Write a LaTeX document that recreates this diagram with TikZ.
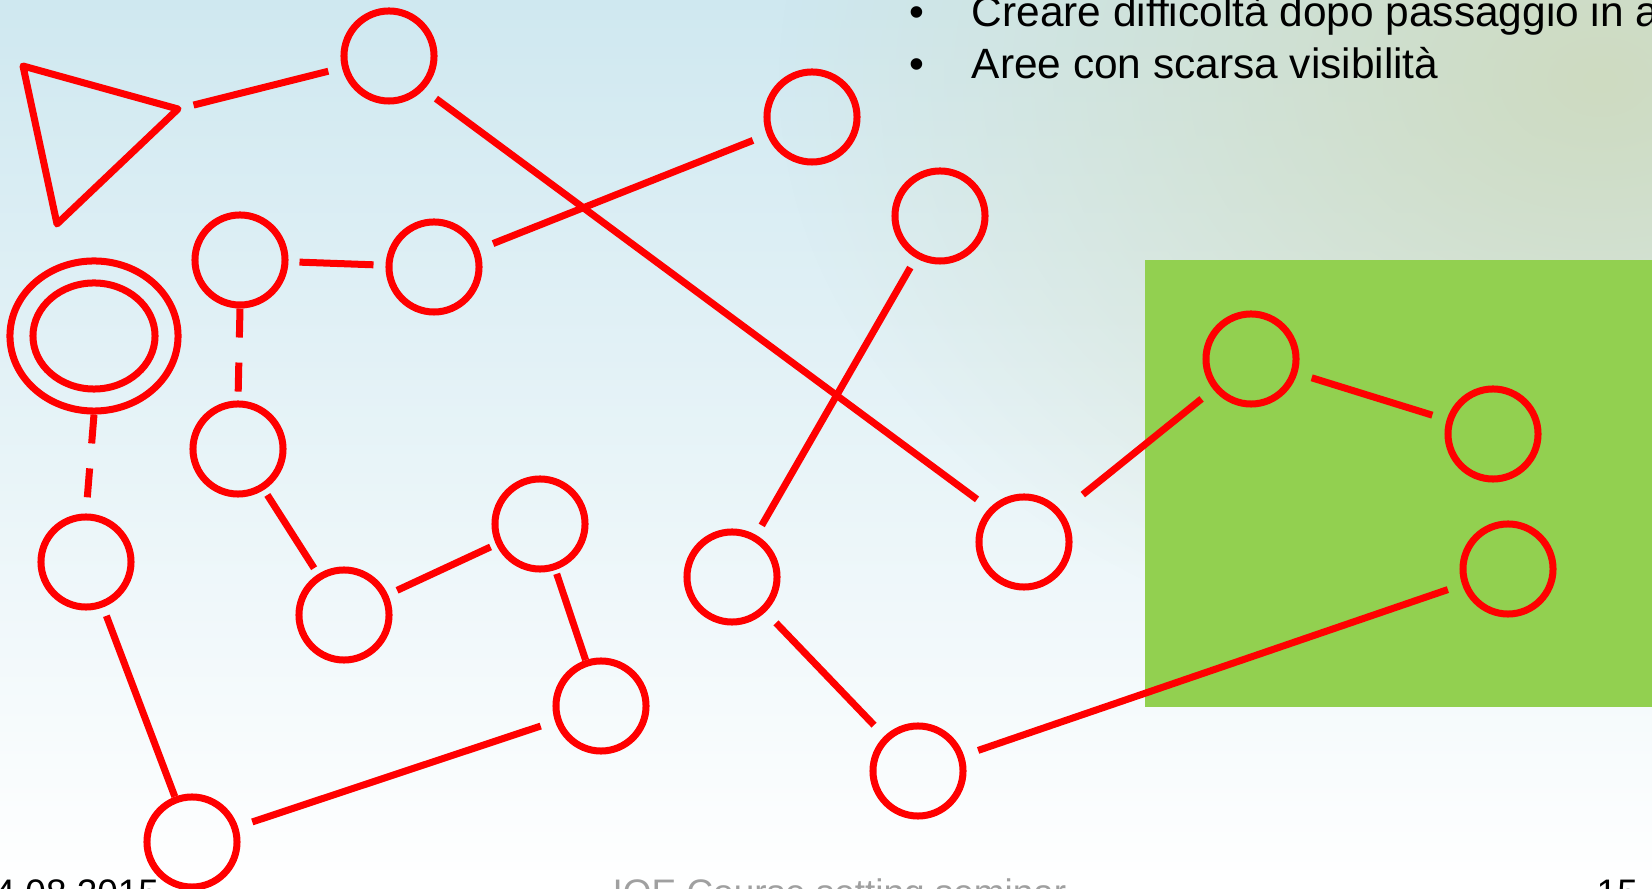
\documentclass[tikz,border=0pt]{standalone}
\usepackage{fontspec}
\setmainfont{Liberation Sans}
\usepackage{tikz}
\usetikzlibrary{shapes.geometric,fadings}

\definecolor{meadow}{RGB}{146,208,80}
\definecolor{skytop}{RGB}{207,232,240}
\definecolor{skymid}{RGB}{236,249,252}
\definecolor{haze}{RGB}{206,219,193}
\definecolor{footgray}{RGB}{160,160,160}

\tikzfading[name=haze fade, inner color=transparent!0, outer color=transparent!100]

\tikzset{
  ctl/.style={circle, draw=red, line width=0.07cm, minimum size=0.9cm, inner sep=0pt},
  ring/.style={ellipse, draw=red, line width=0.07cm, inner sep=0pt},
  leg/.style={draw=red, line width=0.07cm, shorten <=0.15cm, shorten >=0.15cm},
  gap leg/.style={leg, dash pattern=on 0.29cm off 0.25cm, shorten <=0pt},
  slide/.style={inner sep=0pt, font=\fontsize{12.06pt}{14pt}\selectfont},
  foot/.style={inner sep=0pt, font=\fontsize{10.5pt}{12pt}\selectfont},
}

\begin{document}
\begin{tikzpicture}[x=0.01cm, y=-0.01cm]
    \useasboundingbox (0,0) rectangle (1652,889);
    \clip (0,0) rectangle (1652,889);
    % background
    \shade[top color=skytop, middle color=skymid, bottom color=white] (0,0) rectangle (1652,889);
    \fill[haze, path fading=haze fade] (780,-520) rectangle (2420,680);
    \fill[meadow] (1145,260) rectangle (1652,707);

    % start and finish
    \draw[draw=red, line width=0.07cm, line join=round] (23,66) -- (178,109) -- (57,224) -- cycle;
    \coordinate (start) at (178,109);
    \node [ring, minimum width=1.68cm, minimum height=1.5cm] (finish) at (94,336) {};
    \node [ring, minimum width=1.22cm, minimum height=1.06cm] (finishin) at (94,336) {};

    % controls
    \node [ctl] (c1)  at (389,56)   {};
    \node [ctl] (c2)  at (812,117)  {};
    \node [ctl] (c3)  at (240,260)  {};
    \node [ctl] (c4)  at (434,267)  {};
    \node [ctl] (c5)  at (238,449)  {};
    \node [ctl] (c6)  at (86,562)   {};
    \node [ctl] (c7)  at (344,615)  {};
    \node [ctl] (c8)  at (540,524)  {};
    \node [ctl] (c9)  at (601,706)  {};
    \node [ctl] (c10) at (192,842)  {};
    \node [ctl] (c11) at (940,216)  {};
    \node [ctl] (c12) at (732,577)  {};
    \node [ctl] (c13) at (1024,542) {};
    \node [ctl] (c14) at (918,771)  {};
    \node [ctl] (c15) at (1251,359) {};
    \node [ctl] (c16) at (1493,434) {};
    \node [ctl] (c17) at (1508,569) {};

    % legs
    \draw[leg, shorten <=0.16cm, shorten >=0.14cm] (start) -- (c1);
    \draw[leg] (c1.-44) -- (c13.136);
    \draw[leg] (c4) -- (c2);
    \draw[leg, shorten <=0.11cm, shorten >=0.12cm] (c3) -- (c4);
    \draw[gap leg, shorten >=0.07cm] (c3.south) -- (c5.north);
    \draw[gap leg, shorten >=0.14cm] (finish.south) -- (c6.north);
    \draw[leg, shorten <=0.06cm, shorten >=0.07cm] (c5) -- (c7);
    \draw[leg, shorten <=0.1cm, shorten >=0.06cm] (c7) -- (c8);
    \draw[leg, shorten <=0.04cm, shorten >=0pt] (c8) -- (c9);
    \draw[leg] (c9) -- (c10);
    \draw[leg, shorten <=0.09cm, shorten >=0pt] (c6) -- (c10);
    \draw[leg, shorten <=0.11cm, shorten >=0.11cm] (c11) -- (c12);
    \draw[leg] (c12) -- (c14);
    \draw[leg] (c14) -- (c17);
    \draw[leg, shorten <=0.27cm] (c13) -- (c15);
    \draw[leg] (c15) -- (c16);

    % slide text
    \node[slide, anchor=base] (dotA) at (917,27) {•};
    \node[slide, anchor=base west] (lineA) at (971,27) {Creare difficoltà dopo passaggio in a};
    \node[slide, anchor=base] (dotB) at (917,79) {•};
    \node[slide, anchor=base west] (lineB) at (971,79) {Aree con scarsa visibilità};
    \node[foot, anchor=base west] (date) at (-6,905) {4.08.2015};
    \node[foot, anchor=base west, text=footgray] (event) at (612,905) {IOE Course setting seminar};
    \node[foot, anchor=base west] (page) at (1596,905) {15};
\end{tikzpicture}
\end{document}
